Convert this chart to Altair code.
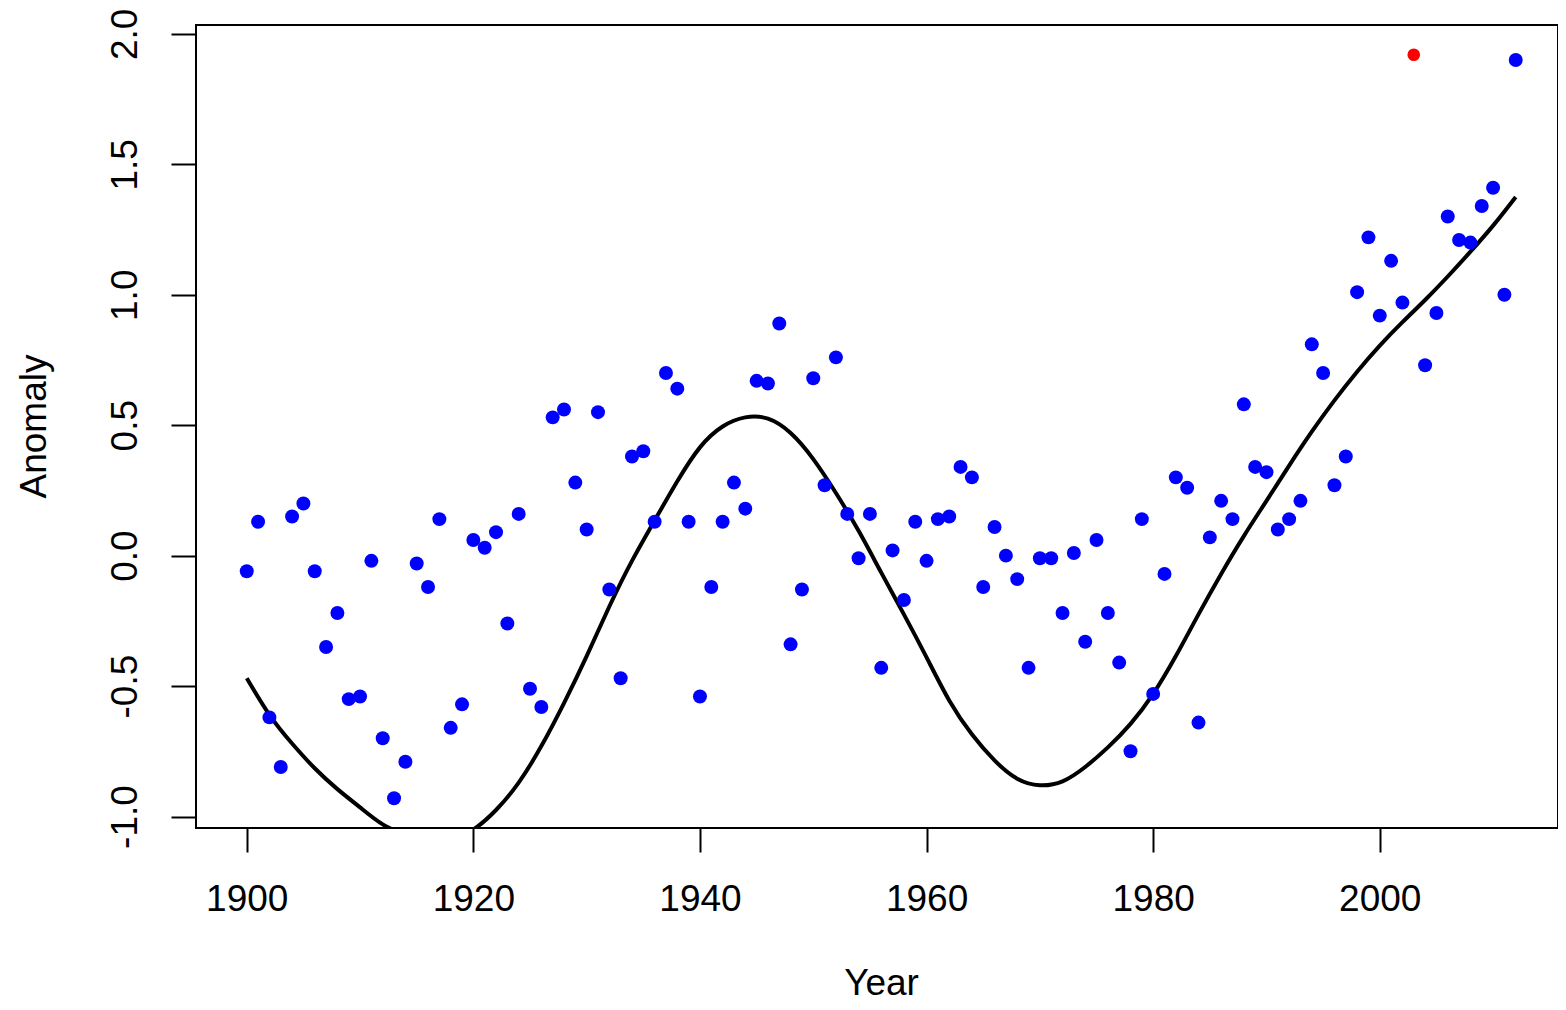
import altair as alt
import pandas as pd

# ---- data ----
years = list(range(1900, 2013))
anomaly = [
    -0.06, 0.13, -0.62, -0.81, 0.15, 0.20, -0.06, -0.35, -0.22, -0.55,   # 1900-1909
    -0.54, -0.02, -0.70, -0.93, -0.79, -0.03, -0.12, 0.14, -0.66, -0.57,  # 1910-1919
    0.06, 0.03, 0.09, -0.26, 0.16, -0.51, -0.58, 0.53, 0.56, 0.28,       # 1920-1929
    0.10, 0.55, -0.13, -0.47, 0.38, 0.40, 0.13, 0.70, 0.64, 0.13,        # 1930-1939
    -0.54, -0.12, 0.13, 0.28, 0.18, 0.67, 0.66, 0.89, -0.34, -0.13,      # 1940-1949
    0.68, 0.27, 0.76, 0.16, -0.01, 0.16, -0.43, 0.02, -0.17, 0.13,       # 1950-1959
    -0.02, 0.14, 0.15, 0.34, 0.30, -0.12, 0.11, 0.00, -0.09, -0.43,      # 1960-1969
    -0.01, -0.01, -0.22, 0.01, -0.33, 0.06, -0.22, -0.41, -0.75, 0.14,   # 1970-1979
    -0.53, -0.07, 0.30, 0.26, -0.64, 0.07, 0.21, 0.14, 0.58, 0.34,       # 1980-1989
    0.32, 0.10, 0.14, 0.21, 0.81, 0.70, 0.27, 0.38, 1.01, 1.22,          # 1990-1999
    0.92, 1.13, 0.97, 1.92, 0.73, 0.93, 1.30, 1.21, 1.20, 1.34,          # 2000-2009
    1.41, 1.00, 1.90,                                                    # 2010-2012
]
highlight_year = 2003

curve_years = [1900, 1902, 1904, 1906, 1908, 1910, 1912, 1914, 1916, 1918,
               1920, 1922, 1924, 1926, 1928, 1930, 1932, 1934, 1936, 1938,
               1940, 1942, 1944, 1946, 1948, 1950, 1952, 1954, 1956, 1958,
               1960, 1962, 1964, 1966, 1968, 1970, 1972, 1974, 1976, 1978,
               1980, 1982, 1984, 1986, 1988, 1990, 1992, 1994, 1996, 1998,
               2000, 2002, 2004, 2006, 2008, 2010, 2012]
curve_values = [-0.47, -0.61, -0.72, -0.815, -0.895, -0.965, -1.03, -1.07, -1.095, -1.09,
                -1.05, -0.975, -0.87, -0.73, -0.565, -0.385, -0.195, -0.02, 0.135, 0.285,
                0.415, 0.495, 0.53, 0.525, 0.47, 0.37, 0.24, 0.095, -0.065, -0.225,
                -0.39, -0.555, -0.685, -0.785, -0.855, -0.88, -0.865, -0.81, -0.735, -0.645,
                -0.53, -0.385, -0.225, -0.07, 0.075, 0.21, 0.345, 0.475, 0.595, 0.705,
                0.805, 0.895, 0.98, 1.07, 1.165, 1.265, 1.375]

x_ticks = [1900, 1920, 1940, 1960, 1980, 2000]
y_ticks = [-1.0, -0.5, 0.0, 0.5, 1.0, 1.5, 2.0]

pts = pd.DataFrame({"Year": years, "Anomaly": anomaly})
blue = pts[pts["Year"] != highlight_year]
red = pts[pts["Year"] == highlight_year]
curve = pd.DataFrame({"Year": curve_years, "Anomaly": curve_values})

FONT = "Liberation Sans"
FS = 37

x_scale = alt.Scale(domain=[1895.52, 2015.73], nice=False, zero=False)
y_scale = alt.Scale(domain=[-1.044, 2.034], nice=False, zero=False)

x_axis = alt.Axis(
    values=x_ticks, format="d", title="Year",
    grid=False, domain=False, ticks=True, tickSize=24, tickWidth=2, tickColor="black",
    labelFont=FONT, labelFontSize=FS, labelColor="black", labelPadding=58,
    labelBaseline="alphabetic", labelOverlap=False, labelFlush=False,
    titleFont=FONT, titleFontSize=FS, titleFontWeight="normal", titleColor="black",
    titleBaseline="alphabetic", titleY=166, titleX=685,
)
y_axis = alt.Axis(
    values=y_ticks, title="Anomaly",
    labelExpr="replace(format(datum.value, '.1f'), '\u2212', '-')",
    grid=False, domain=False, ticks=True, tickSize=25, tickWidth=2, tickColor="black",
    labelFont=FONT, labelFontSize=FS, labelColor="black", labelPadding=35,
    labelAngle=270, labelAlign="center", labelBaseline="alphabetic",
    labelOverlap=False, labelFlush=False,
    titleFont=FONT, titleFontSize=FS, titleFontWeight="normal", titleColor="black",
    titleAngle=270, titleAlign="center", titleBaseline="middle",
    titleX=-162, titleY=401,
)

line = alt.Chart(curve).mark_line(
    color="black", strokeWidth=4, clip=True, interpolate="natural"
).encode(
    x=alt.X("Year:Q", scale=x_scale, axis=x_axis),
    y=alt.Y("Anomaly:Q", scale=y_scale, axis=y_axis),
)
blue_pts = alt.Chart(blue).mark_circle(color="#0000FF", size=195, opacity=1).encode(
    x=alt.X("Year:Q", scale=x_scale),
    y=alt.Y("Anomaly:Q", scale=y_scale),
)
red_pts = alt.Chart(red).mark_circle(color="#FF0000", size=160, opacity=1).encode(
    x=alt.X("Year:Q", scale=x_scale),
    y=alt.Y("Anomaly:Q", scale=y_scale),
)

chart = alt.layer(line, blue_pts, red_pts).properties(
    width=1362, height=803,
    background="white",
    autosize=alt.AutoSizeParams(type="none"),
    padding={"left": 188, "top": 17, "right": 0, "bottom": 174},
).configure_view(
    stroke="black", strokeWidth=2, fill="white",
)

chart.save("out.html", embed_options={"renderer": "svg", "actions": False})
